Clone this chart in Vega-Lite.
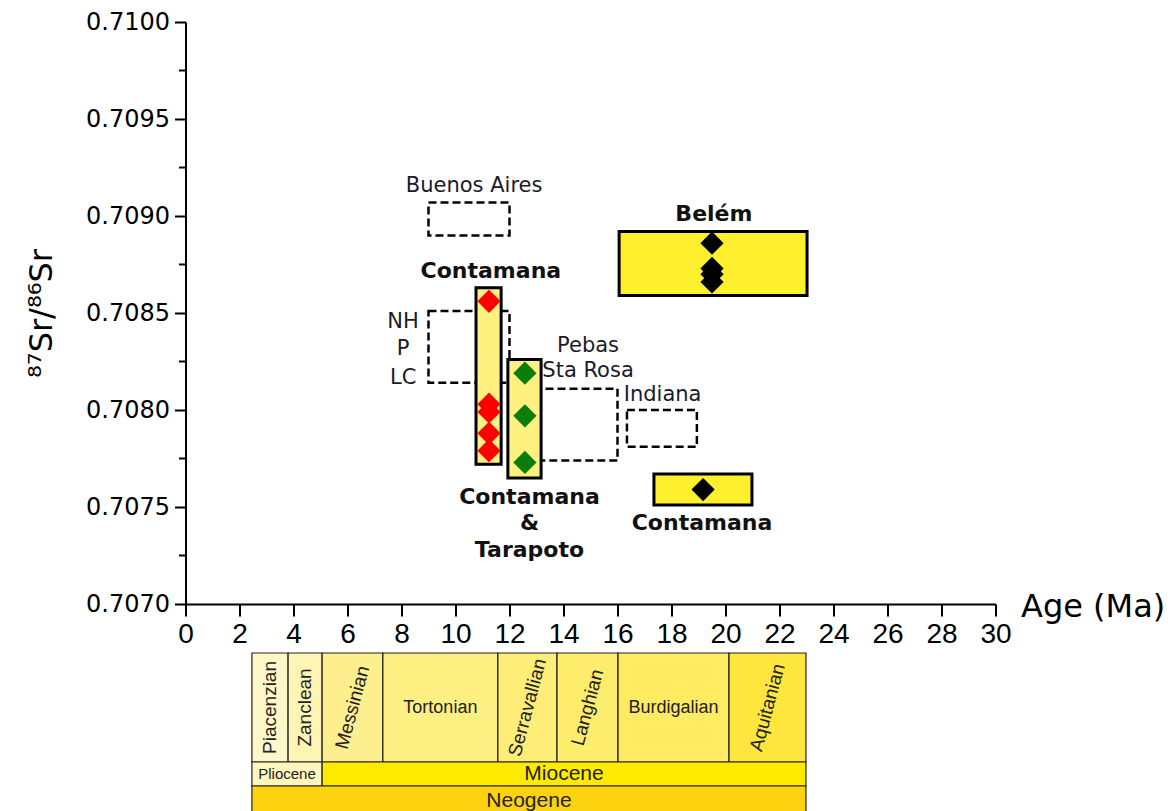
{
  "$schema": "https://vega.github.io/schema/vega-lite/v6.json",
  "background": "white",
  "padding": {"left": 25.5, "top": 10, "right": 0, "bottom": 0},
  "bounds": "flush",
  "spacing": 49,
  "resolve": {"scale": {"fill": "independent"}},
  "config": {
    "view": {"stroke": null},
    "font": "DejaVu Sans",
    "axis": {"grid": false, "domainColor": "black", "tickColor": "black", "labelColor": "black", "titleColor": "black"}
  },
  "datasets": {
    "refBoxes": [
      {"name": "Buenos Aires", "age_min": 9.0, "age_max": 12.0, "sr_min": 0.70890, "sr_max": 0.70907},
      {"name": "NH P LC", "age_min": 9.0, "age_max": 12.0, "sr_min": 0.70814, "sr_max": 0.70851},
      {"name": "Pebas Sta Rosa", "age_min": 12.0, "age_max": 16.0, "sr_min": 0.70774, "sr_max": 0.70811},
      {"name": "Indiana", "age_min": 16.35, "age_max": 18.94, "sr_min": 0.70781, "sr_max": 0.70800}
    ],
    "siteBoxes": [
      {"site": "Contamana (middle Miocene)", "age_min": 10.76, "age_max": 11.69, "sr_min": 0.70772, "sr_max": 0.70863},
      {"site": "Contamana & Tarapoto", "age_min": 11.94, "age_max": 13.17, "sr_min": 0.70765, "sr_max": 0.70826},
      {"site": "Belém", "age_min": 16.06, "age_max": 23.02, "sr_min": 0.70859, "sr_max": 0.70892},
      {"site": "Contamana (early Miocene)", "age_min": 17.35, "age_max": 20.98, "sr_min": 0.70751, "sr_max": 0.70767}
    ],
    "samples": [
      {"site": "Contamana (middle Miocene)", "age": 11.24, "sr": 0.70856},
      {"site": "Contamana (middle Miocene)", "age": 11.24, "sr": 0.70803},
      {"site": "Contamana (middle Miocene)", "age": 11.24, "sr": 0.70799},
      {"site": "Contamana (middle Miocene)", "age": 11.24, "sr": 0.70788},
      {"site": "Contamana (middle Miocene)", "age": 11.24, "sr": 0.70779},
      {"site": "Contamana & Tarapoto", "age": 12.57, "sr": 0.70819},
      {"site": "Contamana & Tarapoto", "age": 12.57, "sr": 0.70797},
      {"site": "Contamana & Tarapoto", "age": 12.57, "sr": 0.70773},
      {"site": "Belém", "age": 19.5, "sr": 0.70886},
      {"site": "Belém", "age": 19.5, "sr": 0.70873},
      {"site": "Belém", "age": 19.5, "sr": 0.70870},
      {"site": "Belém", "age": 19.5, "sr": 0.70866},
      {"site": "Contamana (early Miocene)", "age": 19.17, "sr": 0.70759}
    ],
    "refLabels": [
      {"label": "Buenos Aires", "age": 10.69, "sr": 0.709155},
      {"label": "NH", "age": 8.06, "sr": 0.708454},
      {"label": "P", "age": 8.06, "sr": 0.708314},
      {"label": "LC", "age": 8.06, "sr": 0.708165},
      {"label": "Pebas", "age": 14.91, "sr": 0.70833},
      {"label": "Sta Rosa", "age": 14.91, "sr": 0.708201},
      {"label": "Indiana", "age": 17.67, "sr": 0.708077}
    ],
    "siteLabels": [
      {"label": "Contamana", "age": 11.31, "sr": 0.708716},
      {"label": "Belém", "age": 19.57, "sr": 0.70901},
      {"label": "Contamana", "age": 19.13, "sr": 0.707418},
      {"label": "Contamana", "age": 12.74, "sr": 0.707552},
      {"label": "&", "age": 12.74, "sr": 0.707418},
      {"label": "Tarapoto", "age": 12.74, "sr": 0.707278}
    ],
    "stages": [
      {"stage": "Piacenzian", "start": 2.46, "end": 3.8},
      {"stage": "Zanclean", "start": 3.8, "end": 5.06},
      {"stage": "Messinian", "start": 5.06, "end": 7.31},
      {"stage": "Tortonian", "start": 7.31, "end": 11.57},
      {"stage": "Serravallian", "start": 11.57, "end": 13.76},
      {"stage": "Langhian", "start": 13.76, "end": 16.02},
      {"stage": "Burdigalian", "start": 16.02, "end": 20.13},
      {"stage": "Aquitanian", "start": 20.13, "end": 22.98}
    ],
    "epochs": [
      {"unit": "Pliocene", "start": 2.46, "end": 5.06},
      {"unit": "Miocene", "start": 5.06, "end": 22.98}
    ],
    "periods": [
      {"unit": "Neogene", "start": 2.46, "end": 22.98}
    ]
  },
  "vconcat": [
    {
      "width": 810,
      "height": 582,
      "layer": [
        {
          "data": {"name": "refBoxes"},
          "mark": {"type": "rect", "fill": "transparent", "stroke": "black", "strokeWidth": 2.5, "strokeDash": [8, 4]},
          "encoding": {
            "x": {
              "field": "age_min", "type": "quantitative",
              "scale": {"domain": [0, 30], "nice": false, "zero": false},
              "axis": {
                "values": [0, 2, 4, 6, 8, 10, 12, 14, 16, 18, 20, 22, 24, 26, 28, 30],
                "tickSize": 12, "tickWidth": 2, "domainWidth": 2,
                "labelFont": "Liberation Sans Narrow, Liberation Sans", "labelFontSize": 28, "labelPadding": 4,
                "labelFlush": false, "labelOverlap": false,
                "title": "Age (Ma)", "titleFont": "DejaVu Sans", "titleFontSize": 32, "titleFontWeight": "normal",
                "titleAnchor": null, "titleAlign": "left", "titleBaseline": "middle", "titleX": 835, "titleY": 2
              }
            },
            "x2": {"field": "age_max"},
            "y": {
              "field": "sr_min", "type": "quantitative",
              "scale": {"domain": [0.707, 0.71], "nice": false, "zero": false},
              "axis": {
                "values": [0.707, 0.70725, 0.7075, 0.70775, 0.708, 0.70825, 0.7085, 0.70875, 0.709, 0.70925, 0.7095, 0.70975, 0.71],
                "labelExpr": "round(datum.value*10000) % 5 == 0 ? format(datum.value, '.4f') : ''",
                "tickSize": {"condition": {"test": "round(datum.value*10000) % 5 == 0", "value": 11}, "value": 7},
                "tickWidth": 2, "domainWidth": 2,
                "labelFont": "DejaVu Sans", "labelFontSize": 24, "labelPadding": 5,
                "labelFlush": false, "labelOverlap": false,
                "title": "⁸⁷Sr/⁸⁶Sr", "titleFont": "DejaVu Sans", "titleFontSize": 32, "titleFontWeight": "normal",
                "titlePadding": 27
              }
            },
            "y2": {"field": "sr_max"}
          }
        },
        {
          "data": {"name": "siteBoxes"},
          "mark": {"type": "rect", "stroke": "black", "strokeWidth": 3},
          "encoding": {
            "x": {"field": "age_min", "type": "quantitative"},
            "x2": {"field": "age_max"},
            "y": {"field": "sr_min", "type": "quantitative"},
            "y2": {"field": "sr_max"},
            "fill": {
              "field": "site", "type": "nominal", "legend": null,
              "scale": {
                "domain": ["Contamana (middle Miocene)", "Contamana & Tarapoto", "Belém", "Contamana (early Miocene)"],
                "range": ["#FFF17F", "#FFF17F", "#FFF02E", "#FFF02E"]
              }
            }
          }
        },
        {
          "data": {"name": "samples"},
          "mark": {"type": "point", "shape": "diamond", "filled": true, "size": 540, "opacity": 1},
          "encoding": {
            "x": {"field": "age", "type": "quantitative"},
            "y": {"field": "sr", "type": "quantitative"},
            "color": {
              "field": "site", "type": "nominal", "legend": null,
              "scale": {
                "domain": ["Contamana (middle Miocene)", "Contamana & Tarapoto", "Belém", "Contamana (early Miocene)"],
                "range": ["#FF0000", "#0A7D0A", "#000000", "#000000"]
              }
            }
          }
        },
        {
          "data": {"name": "refLabels"},
          "mark": {"type": "text", "font": "DejaVu Sans", "fontSize": 21, "color": "#1a1a2a", "align": "center", "baseline": "middle"},
          "encoding": {
            "x": {"field": "age", "type": "quantitative"},
            "y": {"field": "sr", "type": "quantitative"},
            "text": {"field": "label"}
          }
        },
        {
          "data": {"name": "siteLabels"},
          "mark": {"type": "text", "font": "DejaVu Sans", "fontSize": 22, "fontWeight": "bold", "color": "#111111", "align": "center", "baseline": "middle"},
          "encoding": {
            "x": {"field": "age", "type": "quantitative"},
            "y": {"field": "sr", "type": "quantitative"},
            "text": {"field": "label"}
          }
        }
      ]
    },
    {
      "bounds": "flush",
      "spacing": 0,
      "resolve": {"scale": {"fill": "independent"}},
      "vconcat": [
        {
          "width": 810,
          "height": 109,
          "data": {"name": "stages"},
          "layer": [
            {
              "mark": {"type": "rect", "stroke": "#222222", "strokeWidth": 1.2},
              "encoding": {
                "x": {"field": "start", "type": "quantitative", "scale": {"domain": [0, 30], "nice": false, "zero": false}, "axis": null},
                "x2": {"field": "end"},
                "fill": {
                  "field": "stage", "type": "nominal", "legend": null,
                  "scale": {
                    "domain": ["Piacenzian", "Zanclean", "Messinian", "Tortonian", "Serravallian", "Langhian", "Burdigalian", "Aquitanian"],
                    "range": ["#FEF7C8", "#FEF4B4", "#FEEF8E", "#FEEF82", "#FEED76", "#FEEC6C", "#FEEB62", "#FEE63E"]
                  }
                }
              }
            },
            {
              "transform": [
                {"filter": {"field": "stage", "oneOf": ["Tortonian", "Burdigalian"]}},
                {"fold": ["start", "end"], "as": ["edge", "age"]}
              ],
              "mark": {"type": "text", "font": "Liberation Sans", "fontSize": 18, "color": "#222222", "align": "center", "baseline": "middle"},
              "encoding": {
                "x": {"field": "age", "type": "quantitative", "aggregate": "mean"},
                "text": {"field": "stage"}
              }
            },
            {
              "transform": [
                {"filter": {"field": "stage", "oneOf": ["Piacenzian", "Zanclean"]}},
                {"fold": ["start", "end"], "as": ["edge", "age"]}
              ],
              "mark": {"type": "text", "font": "Liberation Sans", "fontSize": 19, "color": "#222222", "align": "center", "baseline": "middle", "angle": 270},
              "encoding": {
                "x": {"field": "age", "type": "quantitative", "aggregate": "mean"},
                "text": {"field": "stage"}
              }
            },
            {
              "transform": [
                {"filter": {"field": "stage", "oneOf": ["Messinian", "Serravallian", "Langhian", "Aquitanian"]}},
                {"fold": ["start", "end"], "as": ["edge", "age"]}
              ],
              "mark": {"type": "text", "font": "Liberation Sans", "fontSize": 19, "color": "#222222", "align": "center", "baseline": "middle", "angle": 285},
              "encoding": {
                "x": {"field": "age", "type": "quantitative", "aggregate": "mean"},
                "text": {"field": "stage"}
              }
            }
          ]
        },
        {
          "width": 810,
          "height": 24,
          "data": {"name": "epochs"},
          "layer": [
            {
              "mark": {"type": "rect", "stroke": "#222222", "strokeWidth": 1.2},
              "encoding": {
                "x": {"field": "start", "type": "quantitative", "scale": {"domain": [0, 30], "nice": false, "zero": false}, "axis": null},
                "x2": {"field": "end"},
                "fill": {
                  "field": "unit", "type": "nominal", "legend": null,
                  "scale": {"domain": ["Pliocene", "Miocene"], "range": ["#FEF6BC", "#FFEA00"]}
                }
              }
            },
            {
              "transform": [
                {"filter": {"field": "unit", "equal": "Pliocene"}},
                {"fold": ["start", "end"], "as": ["edge", "age"]}
              ],
              "mark": {"type": "text", "font": "Liberation Sans", "fontSize": 15, "color": "#222222", "align": "center", "baseline": "middle"},
              "encoding": {
                "x": {"field": "age", "type": "quantitative", "aggregate": "mean"},
                "text": {"field": "unit"}
              }
            },
            {
              "transform": [
                {"filter": {"field": "unit", "equal": "Miocene"}},
                {"fold": ["start", "end"], "as": ["edge", "age"]}
              ],
              "mark": {"type": "text", "font": "Liberation Sans", "fontSize": 21, "color": "#222222", "align": "center", "baseline": "middle"},
              "encoding": {
                "x": {"field": "age", "type": "quantitative", "aggregate": "mean"},
                "text": {"field": "unit"}
              }
            }
          ]
        },
        {
          "width": 810,
          "height": 30,
          "data": {"name": "periods"},
          "layer": [
            {
              "mark": {"type": "rect", "stroke": "#222222", "strokeWidth": 1.2, "fill": "#FDD20E"},
              "encoding": {
                "x": {"field": "start", "type": "quantitative", "scale": {"domain": [0, 30], "nice": false, "zero": false}, "axis": null},
                "x2": {"field": "end"}
              }
            },
            {
              "transform": [{"fold": ["start", "end"], "as": ["edge", "age"]}],
              "mark": {"type": "text", "font": "Liberation Sans", "fontSize": 21, "color": "#222222", "align": "center", "baseline": "middle"},
              "encoding": {
                "x": {"field": "age", "type": "quantitative", "aggregate": "mean"},
                "text": {"field": "unit"}
              }
            }
          ]
        }
      ]
    }
  ]
}
